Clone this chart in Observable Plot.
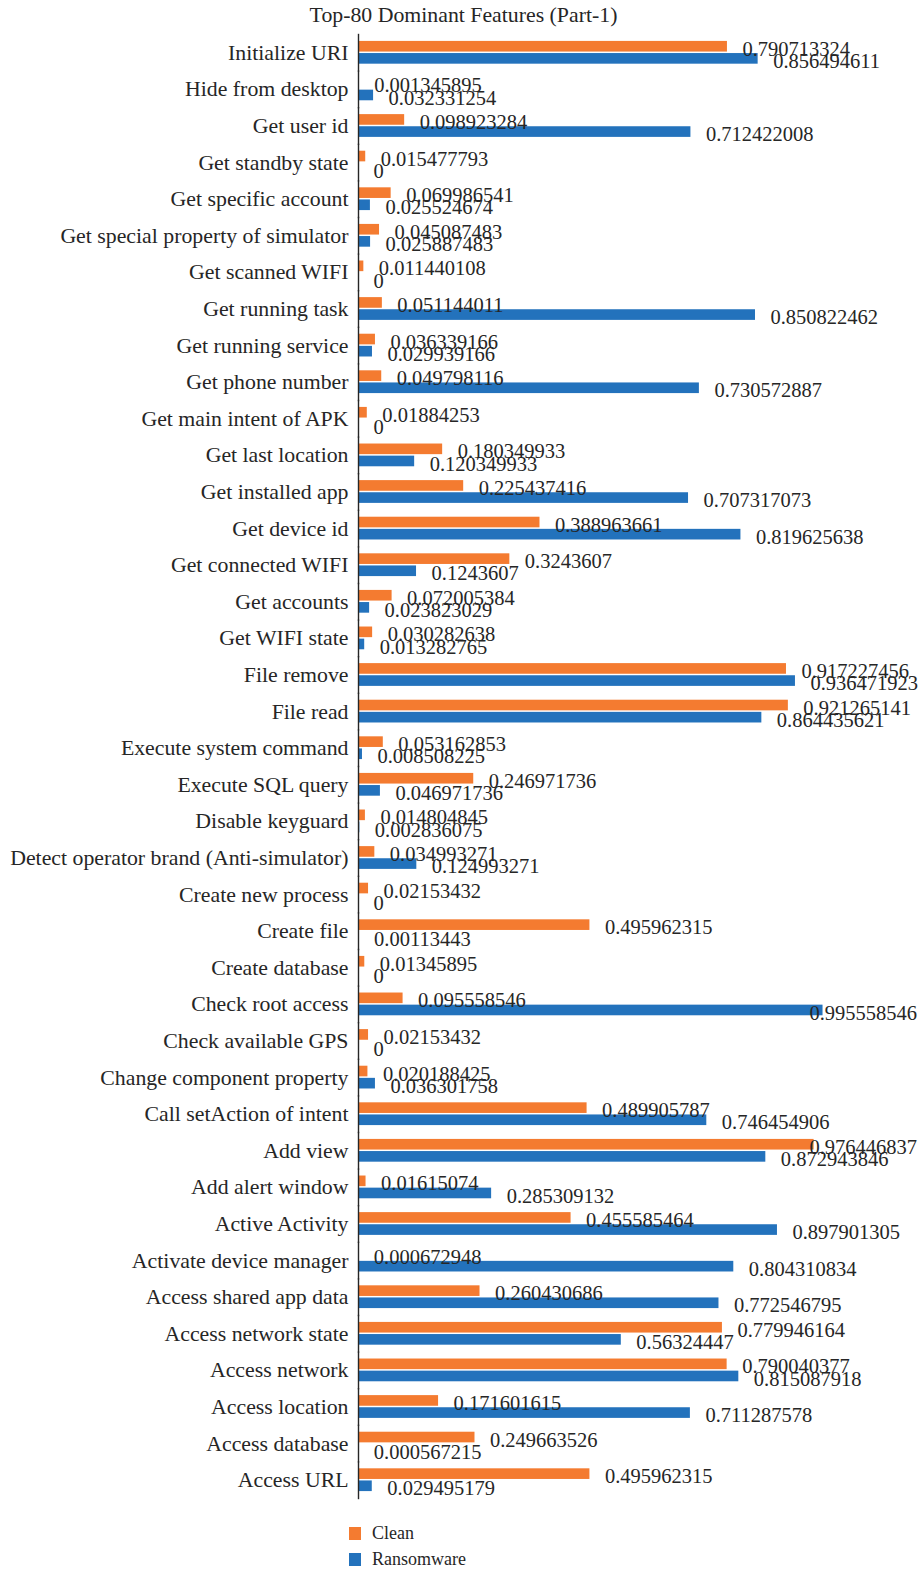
<!DOCTYPE html>
<html>
<head>
<meta charset="utf-8">
<script src="https://cdn.jsdelivr.net/npm/d3@7"></script>
<script src="https://cdn.jsdelivr.net/npm/@observablehq/plot@0.6"></script>
<style>
  html, body { margin: 0; padding: 0; background: #fff; }
  body { width: 919px; font-family: "Liberation Serif", "DejaVu Serif", serif; color: #262626; }
  #title { height: 30px; line-height: 30px; font-size: 21.8px; text-align: center; padding-left: 8px; box-sizing: border-box; }
  #chart svg { display: block; }
  #legend { padding-top: 10px; padding-left: 349px; font-size: 18px; }
  .item { height: 26.5px; display: flex; align-items: center; }
  .swatch { width: 12px; height: 13px; margin-right: 11px; }
</style>
</head>
<body>
<div id="title">Top-80 Dominant Features (Part-1)</div>
<div id="chart"></div>
<div id="legend"></div>
<script>
// Features, top to bottom
const features = [
  "Initialize URI",
  "Hide from desktop",
  "Get user id",
  "Get standby state",
  "Get specific account",
  "Get special property of simulator",
  "Get scanned WIFI",
  "Get running task",
  "Get running service",
  "Get phone number",
  "Get main intent of APK",
  "Get last location",
  "Get installed app",
  "Get device id",
  "Get connected WIFI",
  "Get accounts",
  "Get WIFI state",
  "File remove",
  "File read",
  "Execute system command",
  "Execute SQL query",
  "Disable keyguard",
  "Detect operator brand (Anti-simulator)",
  "Create new process",
  "Create file",
  "Create database",
  "Check root access",
  "Check available GPS",
  "Change component property",
  "Call setAction of intent",
  "Add view",
  "Add alert window",
  "Active Activity",
  "Activate device manager",
  "Access shared app data",
  "Access network state",
  "Access network",
  "Access location",
  "Access database",
  "Access URL"
];

const clean = [
  0.790713324, 0.001345895, 0.098923284, 0.015477793, 0.069986541,
  0.045087483, 0.011440108, 0.051144011, 0.036339166, 0.049798116,
  0.01884253, 0.180349933, 0.225437416, 0.388963661, 0.3243607,
  0.072005384, 0.030282638, 0.917227456, 0.921265141, 0.053162853,
  0.246971736, 0.014804845, 0.034993271, 0.02153432, 0.495962315,
  0.01345895, 0.095558546, 0.02153432, 0.020188425, 0.489905787,
  0.976446837, 0.01615074, 0.455585464, 0.000672948, 0.260430686,
  0.779946164, 0.790040377, 0.171601615, 0.249663526, 0.495962315
];

const ransomware = [
  0.856494611, 0.032331254, 0.712422008, 0, 0.025524674,
  0.025887483, 0, 0.850822462, 0.029939166, 0.730572887,
  0, 0.120349933, 0.707317073, 0.819625638, 0.1243607,
  0.023823029, 0.013282765, 0.936471923, 0.864435621, 0.008508225,
  0.046971736, 0.002836075, 0.124993271, 0, 0.00113443,
  0, 0.995558546, 0, 0.036301758, 0.746454906,
  0.872943846, 0.285309132, 0.897901305, 0.804310834, 0.772546795,
  0.56324447, 0.815087918, 0.711287578, 0.000567215, 0.029495179
];

const seriesNames = ["Clean", "Ransomware"];
const seriesColors = ["#F47B30", "#2372BC"];

// Long-format rows for the grouped bars
const rows = [];
features.forEach((f, i) => {
  rows.push({feature: f, series: "Clean", value: clean[i]});
  rows.push({feature: f, series: "Ransomware", value: ransomware[i]});
});

// Labels of the longest bars would run off the right edge; pin them there instead
const edgeValue = 0.94;
const fits = d => d.value <= edgeValue;
const overflows = d => d.value > edgeValue;

const font = "Liberation Serif, DejaVu Serif, serif";
const ink = "#262626";

const chart = Plot.plot({
  width: 919,
  height: 1480,
  marginTop: 4,
  marginBottom: 12,
  marginLeft: 358,
  marginRight: 94.4,
  facet: {marginTop: 0, marginBottom: 0, marginLeft: 0, marginRight: 0},
  style: {fontFamily: font, fontSize: "20px", color: ink, background: "#fff", overflow: "visible"},
  x: {domain: [0, 1], axis: null},
  fy: {domain: features, padding: 0, round: false, label: null},
  y: {domain: seriesNames, axis: null, paddingInner: 0.123, paddingOuter: 0.57, round: false},
  color: {domain: seriesNames, range: seriesColors},
  marks: [
    Plot.axisFy({anchor: "left", tickSize: 0, tickPadding: 10, label: null, fontSize: 21.8, fill: ink}),
    Plot.barX(rows, {fy: "feature", y: "series", x: "value", fill: "series"}),
    Plot.frame({anchor: "left", stroke: "#262626", strokeWidth: 1.4}),
    Plot.text(rows.filter(fits), {
      fy: "feature", y: "series", x: "value",
      text: d => String(d.value),
      textAnchor: "start", dx: 15, dy: 2.5,
      fontSize: 20.5, fill: ink
    }),
    Plot.text(rows.filter(overflows), {
      fy: "feature", y: "series",
      frameAnchor: "right",
      text: d => String(d.value),
      textAnchor: "end", dx: 92, dy: 2.5,
      fontSize: 20.5, fill: ink
    })
  ]
});
document.getElementById("chart").appendChild(chart);

// Legend below the chart
const legend = document.getElementById("legend");
seriesNames.forEach((name, i) => {
  const item = document.createElement("div");
  item.className = "item";
  const sw = document.createElement("span");
  sw.className = "swatch";
  sw.style.background = seriesColors[i];
  const label = document.createElement("span");
  label.textContent = name;
  item.appendChild(sw);
  item.appendChild(label);
  legend.appendChild(item);
});
</script>
</body>
</html>
